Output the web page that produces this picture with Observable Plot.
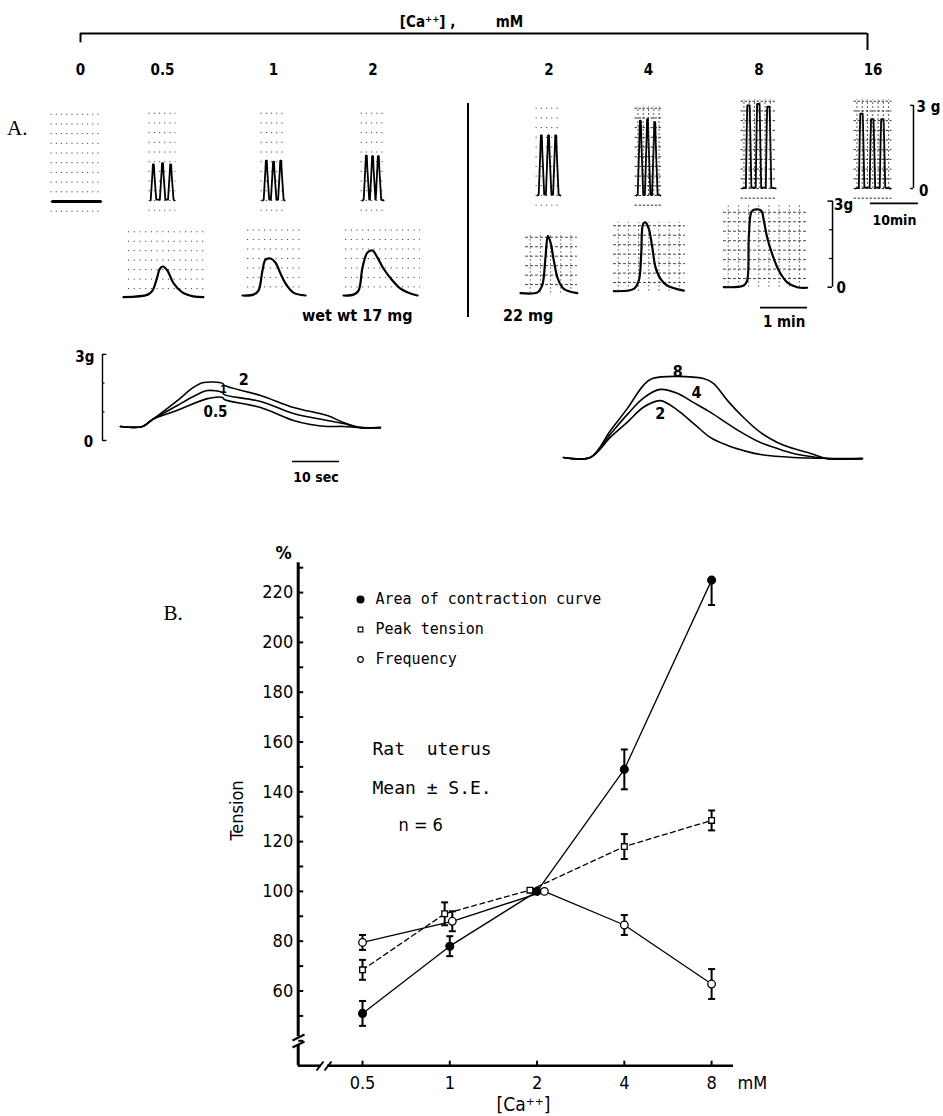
<!DOCTYPE html>
<html><head><meta charset="utf-8">
<script src="https://cdn.jsdelivr.net/npm/d3@7"></script>
<script src="https://cdn.jsdelivr.net/npm/@observablehq/plot@0.6"></script>
<style>
body{margin:0;background:#fff;}
#fig{position:relative;width:943px;height:1116px;overflow:hidden;background:#fff;color:#000;font-family:"DejaVu Sans Condensed","DejaVu Sans",sans-serif;}
.lbl{position:absolute;white-space:nowrap;line-height:1;}
</style></head><body><div id="fig"></div>
<script>
// ================= DATA =================
// ---- Part B: tension (% of value at 2 mM) vs [Ca++] (mM) ----
const conc = [0.5, 1, 2, 4, 8];
const xTickLabels = ["0.5", "1", "2", "4", "8"];
const yTickLabels = [60, 80, 100, 120, 140, 160, 180, 200, 220];
const yMinorTicks = [40, 50, 60, 70, 80, 90, 100, 110, 120, 130, 140, 150, 160, 170, 180, 190, 200, 210, 220, 230];
const legendLabels = ["Area of contraction curve", "Peak tension", "Frequency"];
const areaX = [0.5, 1, 2, 4, 8];
const areaY = [51, 78, 100, 149, 225];
const areaErrLo = [5, 4, 0, 8, 10];
const areaErrHi = [5, 4, 0, 8, 0];
const peakX = [0.5, 0.96, 1.89, 4, 8];
const peakY = [68.5, 91, 100.5, 118, 128.5];
const peakErr = [4, 4.6, 0, 5, 4];
const freqX = [0.5, 1.02, 2.12, 4, 8];
const freqY = [79.5, 88, 100, 86.5, 62.8];
const freqErr = [3, 4, 0, 4, 6];

// ---- Part A, row 1: slow recordings (time in min, tension in g above resting) ----
const concLabels = ["0", "0.5", "1", "2", "2", "4", "8", "16"];
const slowPeakTimes = [[], [0.6, 2.5, 4.2], [0.8, 2.3, 3.8], [0.8, 2.1, 3.3], [0.8, 2.3, 3.8], [0.8, 2.3, 3.8], [1.25, 3.3, 5.4], [1.25, 3.5, 5.6]];
const slowPeakAmps = [[], [1.3, 1.35, 1.3], [1.44, 1.4, 1.44], [1.62, 1.6, 1.6], [2.17, 2.17, 2.17], [2.7, 2.75, 2.65], [3.0, 3.05, 2.95], [2.7, 2.5, 2.5]];
const slowTraceEnd = [10, 5.0, 4.6, 4.4, 4.8, 5.0, 6.9, 7.3];

// ---- Part A, row 2: single contractions, fast paper speed (time s, tension g) ----
const fast05 = [[0,0],[31,0.09],[37,0.23],[43,0.69],[46,0.97],[50,1.07],[56,0.93],[64,0.48],[75,0.17],[89,0.03],[102,0]];
const fast1 = [[0,0],[14,0.03],[20.4,0.17],[25.5,0.87],[29.4,1.25],[35.8,1.29],[42,1.15],[48.5,0.77],[54.9,0.42],[65,0.1],[80.5,0]];
const fast2L = [[0,0],[12.8,0.03],[19.2,0.17],[24.3,0.98],[30.6,1.5],[37,1.57],[43.4,1.32],[51,0.94],[62.5,0.52],[72.8,0.24],[85.6,0.07],[94.5,0]];
const fast2R = [[0,0],[21.7,0.03],[27.7,0.27],[31.9,1.25],[34.9,2.0],[38.3,1.77],[42.6,1.13],[47.7,0.5],[55.3,0.15],[72.4,0]];
const fast4 = [[0,0],[25.5,0.08],[31.9,0.37],[35,1.3],[37.5,2.35],[40.4,2.4],[44.7,2.17],[49,1.55],[53.2,0.84],[59.6,0.43],[68.1,0.2],[89.4,0.02]];
const fast8 = [[0,0],[25.5,0.06],[29.8,0.23],[31.9,1.74],[35,2.61],[38.3,2.7],[47.7,2.67],[51,2.33],[55.3,1.74],[61.7,1.16],[70.2,0.58],[80.9,0.17],[93.6,0],[106.4,-0.02]];
const fastCurves = [fast05, fast1, fast2L, fast2R, fast4, fast8];
const fastGridTop = [2.6, 2.3, 2.3, 2.1, 2.4, 2.9];

// ---- Part A, row 3: superimposed contractions (time s, tension g) ----
const ovL2 = [[0,0.49],[4.7,0.49],[6.8,0.73],[12.1,1.39],[15.5,1.85],[17.7,2.02],[21.7,1.99],[22.1,1.92],[29.8,1.57],[36.8,1.15],[44,0.87],[47.4,0.63],[51.1,0.45],[55.3,0.45]];
const ovL1 = [[0,0.49],[4.7,0.49],[6.8,0.73],[12.1,1.22],[15.5,1.53],[18.5,1.74],[21.7,1.67],[22.1,1.6],[29.8,1.36],[36.8,0.94],[44,0.7],[47.4,0.59],[51.1,0.45],[55.3,0.45]];
const ovL05 = [[0,0.49],[4.7,0.49],[6.8,0.73],[12.1,1.05],[18.5,1.46],[21.7,1.5],[22.1,1.43],[29.8,1.15],[36.8,0.7],[40.4,0.56],[44,0.49],[47.4,0.49],[51.1,0.45],[55.3,0.45]];
const ovR8 = [[0,0.49],[5.7,0.49],[10,1.43],[13.6,2.2],[17,3.0],[18.9,3.24],[29.8,3.24],[31.9,3.07],[34.9,2.47],[38.3,1.88],[41.9,1.36],[45.5,1.01],[48.9,0.8],[52.6,0.63],[56.2,0.45],[63.6,0.45]];
const ovR4 = [[0,0.49],[5.7,0.49],[10,1.31],[13.6,1.99],[17,2.56],[20.6,2.86],[24.3,2.72],[27.7,2.4],[31.3,2.06],[34.9,1.67],[38.3,1.32],[41.9,1.01],[45.5,0.8],[48.9,0.63],[52.6,0.52],[56.2,0.45],[63.6,0.45]];
const ovR2 = [[0,0.49],[5.7,0.49],[10,1.2],[13.6,1.72],[17,2.24],[20.6,2.47],[24.3,2.13],[27.7,1.67],[31.3,1.18],[34.9,0.91],[38.3,0.73],[41.9,0.59],[48.9,0.49],[63.6,0.45]];

// ================= LAYOUT / HELPERS =================
const COND = '"DejaVu Sans Condensed","DejaVu Sans",sans-serif';
const MONO = '"DejaVu Sans Mono",monospace';
const SERIF = '"Liberation Serif","DejaVu Serif",serif';
const fig = document.getElementById("fig");
function place(el, left, top) { el.style.position = "absolute"; el.style.left = left + "px"; el.style.top = top + "px"; fig.appendChild(el); }
function label(text, left, top, size, family, extra) {
  const d = document.createElement("div"); d.className = "lbl"; d.textContent = text;
  d.style.left = left + "px"; d.style.top = top + "px"; d.style.fontSize = size + "px"; d.style.fontFamily = family;
  if (extra) Object.assign(d.style, extra); fig.appendChild(d); return d;
}
const tickRight = {draw(c, s) { const r = Math.sqrt(s / Math.PI); c.moveTo(0, 0); c.lineTo(r, 0); }};
const tickUp = {draw(c, s) { const r = Math.sqrt(s / Math.PI); c.moveTo(0, 0); c.lineTo(0, -r); }};
const capBar = {draw(c, s) { const r = Math.sqrt(s / Math.PI); c.moveTo(-r, 0); c.lineTo(r, 0); }};
const xy = {x: d => d[0], y: d => d[1]};

function panel({left, top, width, height, x0, base, px, py, marks}) {
  const svg = Plot.plot({
    width, height, marginTop: 0, marginRight: 0, marginBottom: 0, marginLeft: 0,
    style: {background: "transparent", overflow: "visible", fontFamily: COND, color: "black"},
    x: {domain: [(left - x0) / px, (left + width - x0) / px], range: [0, width], axis: null},
    y: {domain: [(base - top - height) / py, (base - top) / py], range: [height, 0], axis: null},
    marks
  });
  place(svg, left, top);
}

// ---------- header bracket ----------
{
  const svg = Plot.plot({
    width: 943, height: 55, marginTop: 0, marginRight: 0, marginBottom: 0, marginLeft: 0,
    style: {background: "transparent", overflow: "visible", fontFamily: COND},
    x: {domain: [0, 1], range: [80, 867], axis: null},
    y: {domain: [0, 1], range: [50, 33], axis: null},
    marks: [
      Plot.ruleY([1], {x1: 0, x2: 1, strokeWidth: 2}),
      Plot.ruleX([0], {y1: 1, y2: 0.45, strokeWidth: 2}),
      Plot.ruleX([1], {y1: 1, y2: 0, strokeWidth: 2}),
      Plot.text(["[Ca⁺⁺] ,"], {x: 0.441, y: 1.65, text: d => d, fontSize: 15, fontWeight: "bold"}),
      Plot.text(["mM"], {x: 0.545, y: 1.65, text: d => d, fontSize: 15, fontWeight: "bold"})
    ]
  });
  place(svg, 0, 0);
}

// ---------- row 1: slow traces ----------
const slowLayout = [{x0: 52, base: 201}, {x0: 150, base: 200}, {x0: 262, base: 200}, {x0: 362, base: 200},
                    {x0: 537, base: 195}, {x0: 636, base: 195}, {x0: 742, base: 188}, {x0: 855, base: 188}];
function slowTrace(times, amps, end, wide) {
  const pts = [[0, 0]];
  times.forEach((t, i) => {
    const a = amps[i], w = wide ? 0.25 : 0.1;
    pts.push([t - 0.55, 0.03], [t - w - 0.1, a * 0.75], [t - w, a], [t + w, a], [t + w + 0.12, a * 0.7], [t + 0.6, 0.03]);
  });
  pts.push([end, 0]);
  return pts;
}
concLabels.forEach((lab, i) => {
  const L = slowLayout[i], end = slowTraceEnd[i];
  const left = L.x0 - 14;
  const width = i === 7 ? 943 - left : end * 4.8 + 28;
  const dense = i >= 5;
  const marks = [
    Plot.ruleY(d3.range(-0.35, 3.45, 0.35), {x1: -0.3, x2: end + 0.3, stroke: "#333", strokeWidth: dense ? 1 : 0.9, strokeDasharray: dense ? "2.5,1.5" : "1.2,4"}),
    Plot.line(i === 0 ? [[0, 0], [end, 0]] : slowTrace(slowPeakTimes[i], slowPeakAmps[i], end, i >= 6), {...xy, strokeWidth: i === 0 ? 3 : 1.8}),
    Plot.text([lab], {x: i === 0 ? 5.8 : end / 2, frameAnchor: "top", dy: 14, text: d => d, fontSize: 15, fontWeight: "bold"})
  ];
  if (dense) marks.push(Plot.ruleX(d3.range(0.3, end, 1.1), {y1: 0, y2: 3.2, stroke: "#333", strokeWidth: 0.8, strokeDasharray: "2,2"}));
  if (i === 7) {
    marks.push(
      Plot.ruleX([12.08], {y1: 0, y2: 3, strokeWidth: 1.5}),
      Plot.ruleY([0, 3], {x1: 11.5, x2: 12.08, strokeWidth: 1.5}),
      Plot.text(["3 g"], {x: 15.2, y: 2.95, text: d => d, fontSize: 15, fontWeight: "bold"}),
      Plot.text(["0"], {x: 14.2, y: -0.1, text: d => d, fontSize: 15, fontWeight: "bold"}),
      Plot.ruleY([-0.54], {x1: 3.1, x2: 13.1, strokeWidth: 1.8}),
      Plot.text(["10min"], {x: 8.1, y: -1.15, text: d => d, fontSize: 14, fontWeight: "bold"})
    );
  }
  panel({left, top: 50, width, height: L.base - 50 + 42, x0: L.x0, base: L.base, px: 4.8, py: 27.7, marks});
});

// ---------- row 2: single contractions ----------
const fastLayout = [{x0: 123, base: 296.7, g0: 128, g1: 205}, {x0: 242, base: 295, g0: 247, g1: 300},
                    {x0: 343, base: 295, g0: 345, g1: 420}, {x0: 520, base: 292.7, g0: 525, g1: 577},
                    {x0: 613.3, base: 290.7, g0: 613, g1: 685}, {x0: 723.3, base: 286.7, g0: 723, g1: 807}];
const pxS = 47 / 60, pxG = 28.7;
fastCurves.forEach((curve, i) => {
  const L = fastLayout[i];
  const left = Math.min(L.x0, L.g0) - 8;
  const width = i === 5 ? 870 - left : (L.g1 - left) + 10;
  const tA = (L.g0 - L.x0) / pxS, tB = (L.g1 - L.x0) / pxS;
  const dense = i >= 3;
  const marks = [
    Plot.ruleY(d3.range(0.3, fastGridTop[i] + 0.01, 0.33), {x1: tA, x2: tB, stroke: "#333", strokeWidth: 0.9, strokeDasharray: dense ? "3,2" : "1.2,4.5"}),
    Plot.line(curve, {...xy, strokeWidth: 2.2, curve: "catmull-rom"})
  ];
  if (dense) marks.push(Plot.ruleX(d3.range(tA + 6, tB, 13), {y1: 0, y2: fastGridTop[i], stroke: "#333", strokeWidth: 0.8, strokeDasharray: "1.5,2.5"}));
  if (i === 5) {
    marks.push(
      Plot.ruleX([138.8], {y1: 0, y2: 3, strokeWidth: 1.5}),
      Plot.ruleY([0, 3], {x1: 133, x2: 138.8, strokeWidth: 1.5}),
      Plot.ruleY([1, 2], {x1: 135, x2: 138.8, strokeWidth: 1.2}),
      Plot.text(["3g"], {x: 153, y: 2.85, text: d => d, fontSize: 15, fontWeight: "bold"}),
      Plot.text(["0"], {x: 150, y: -0.05, text: d => d, fontSize: 15, fontWeight: "bold"}),
      Plot.ruleY([-0.71], {x1: 46.9, x2: 106.9, strokeWidth: 1.8}),
      Plot.text(["1 min"], {x: 77, y: -1.23, text: d => d, fontSize: 15, fontWeight: "bold"})
    );
  }
  panel({left, top: 195, width, height: 135, x0: L.x0, base: L.base, px: pxS, py: pxG, marks});
});

// ---------- row 3: superimposed contractions ----------
panel({left: 60, top: 340, width: 330, height: 150, x0: 120, base: 440, px: 4.7, py: 28.7, marks: [
  Plot.line(ovL2, {...xy, strokeWidth: 1.6, curve: "catmull-rom"}),
  Plot.line(ovL1, {...xy, strokeWidth: 1.6, curve: "catmull-rom"}),
  Plot.line(ovL05, {...xy, strokeWidth: 1.6, curve: "catmull-rom"}),
  Plot.text(["2"], {x: 26.2, y: 2.12, text: d => d, fontSize: 16, fontWeight: "bold"}),
  Plot.text(["1"], {x: 21.9, y: 1.78, text: d => d, fontSize: 11, fontWeight: "bold"}),
  Plot.text(["0.5"], {x: 20.2, y: 0.98, text: d => d, fontSize: 15, fontWeight: "bold"}),
  Plot.ruleX([-3.83], {y1: 0, y2: 3, strokeWidth: 1.4}),
  Plot.ruleY([0, 3], {x1: -3.83, x2: -2.9, strokeWidth: 1.4}),
  Plot.ruleY([1, 2], {x1: -3.83, x2: -3.3, strokeWidth: 1.2}),
  Plot.text(["3g"], {x: -7.6, y: 2.9, text: d => d, fontSize: 15, fontWeight: "bold"}),
  Plot.text(["0"], {x: -6.8, y: -0.07, text: d => d, fontSize: 15, fontWeight: "bold"}),
  Plot.ruleY([-0.73], {x1: 36.6, x2: 46.6, strokeWidth: 1.6}),
  Plot.text(["10 sec"], {x: 41.6, y: -1.29, text: d => d, fontSize: 14, fontWeight: "bold"})
]});
panel({left: 555, top: 340, width: 340, height: 140, x0: 563, base: 471, px: 4.7, py: 28.7, marks: [
  Plot.line(ovR8, {...xy, strokeWidth: 1.6, curve: "catmull-rom"}),
  Plot.line(ovR4, {...xy, strokeWidth: 1.6, curve: "catmull-rom"}),
  Plot.line(ovR2, {...xy, strokeWidth: 1.6, curve: "catmull-rom"}),
  Plot.text(["8"], {x: 24.3, y: 3.48, text: d => d, fontSize: 16, fontWeight: "bold"}),
  Plot.text(["4"], {x: 28.3, y: 2.74, text: d => d, fontSize: 16, fontWeight: "bold"}),
  Plot.text(["2"], {x: 20.6, y: 2.02, text: d => d, fontSize: 16, fontWeight: "bold"})
]});

// ---------- static labels of part A ----------
label("A.", 7, 118, 21, SERIF);
label("wet  wt  17 mg", 302, 308, 16, COND, {fontWeight: "bold"});
label("22 mg", 503, 308, 16, COND, {fontWeight: "bold"});
{ const d = document.createElement("div"); Object.assign(d.style, {position: "absolute", left: "467px", top: "103px", width: "2px", height: "214px", background: "#000"}); fig.appendChild(d); }

// ---------- Part B ----------
{
  const invX = p => 0.3 * Math.pow(2, (p - 297.7) / 87.27);
  const invY = p => 30 + (1065.2 - p) / 2.49;
  const mk = (xs, ys, lo, hi) => xs.map((x, i) => ({x, y: ys[i], lo: ys[i] - lo[i], hi: ys[i] + hi[i], e: lo[i] + hi[i]}));
  const area = mk(areaX, areaY, areaErrLo, areaErrHi);
  const peak = mk(peakX, peakY, peakErr, peakErr);
  const freq = mk(freqX, freqY, freqErr, freqErr);
  const withErr = [...area, ...peak, ...freq].filter(d => d.e > 0);
  const T = (s, x, y, o) => Plot.text([s], {x, y, text: d => d, ...o});
  const svg = Plot.plot({
    width: 700, height: 586, marginTop: 0, marginRight: 0, marginBottom: 0, marginLeft: 0,
    style: {background: "transparent", overflow: "visible", fontFamily: COND, color: "black"},
    x: {type: "log", base: 2, domain: [0.3, 9.52], range: [197.7, 633], axis: null},
    y: {domain: [30, 232], range: [535.2, 32.2], axis: null},
    marks: [
      // axes with breaks
      Plot.ruleX([0.3], {y1: 30, y2: 38.3, strokeWidth: 3}),
      Plot.ruleX([0.3], {y1: 41.6, y2: 232, strokeWidth: 3}),
      Plot.link([0], {x1: invX(292), y1: invY(1047), x2: invX(304), y2: invY(1041), strokeWidth: 2}),
      Plot.link([0], {x1: invX(292), y1: invY(1040), x2: invX(304), y2: invY(1034), strokeWidth: 2}),
      Plot.ruleY([30], {x1: 0.3, x2: invX(321), strokeWidth: 2.5}),
      Plot.ruleY([30], {x1: invX(327), x2: 9.52, strokeWidth: 2.5}),
      Plot.link([0], {x1: invX(316), y1: invY(1070), x2: invX(323), y2: invY(1061), strokeWidth: 2}),
      Plot.link([0], {x1: invX(324), y1: invY(1070), x2: invX(331), y2: invY(1061), strokeWidth: 2}),
      Plot.dot(yMinorTicks, {x: 0.3, y: d => d, symbol: tickRight, r: 5, fill: "none", stroke: "black", strokeWidth: 2}),
      Plot.dot(conc, {x: d => d, y: 30, symbol: tickUp, r: 5, fill: "none", stroke: "black", strokeWidth: 2}),
      Plot.text(yTickLabels, {x: 0.3, y: d => d, text: d => String(d), textAnchor: "end", dx: -5, fontSize: 18}),
      Plot.text(conc, {x: d => d, y: 30, text: (d, i) => xTickLabels[i], dy: 18, fontSize: 18}),
      T("mM", invX(737), 30, {dy: 18, textAnchor: "start", fontSize: 18}),
      T("[Ca⁺⁺]", invX(523), invY(1104), {fontSize: 19}),
      T("%", invX(283), invY(553), {fontSize: 18, fontWeight: "bold"}),
      T("Tension", invX(237), invY(810), {rotate: -90, fontSize: 18}),
      T("B.", invX(163), invY(613), {textAnchor: "start", fontSize: 21, fontFamily: SERIF}),
      // legend
      Plot.dot([0], {x: invX(360), y: invY(599), r: 3.3, fill: "black", stroke: "black"}),
      Plot.dot([0], {x: invX(360), y: invY(629), symbol: "square", r: 2.6, fill: "white", stroke: "black", strokeWidth: 1.2}),
      Plot.dot([0], {x: invX(360), y: invY(659), r: 2.8, fill: "white", stroke: "black", strokeWidth: 1.2}),
      Plot.text(legendLabels, {x: invX(375), y: (d, i) => invY(599 + 30 * i), text: d => d, textAnchor: "start", fontSize: 15, fontFamily: MONO}),
      T("Rat  uterus", invX(372), invY(749), {textAnchor: "start", fontSize: 18, fontFamily: MONO}),
      T("Mean ± S.E.", invX(372), invY(788), {textAnchor: "start", fontSize: 18, fontFamily: MONO}),
      T("n = 6", invX(398), invY(825), {textAnchor: "start", fontSize: 18, fontFamily: COND}),
      // series
      Plot.line(area, {x: "x", y: "y", strokeWidth: 1.3}),
      Plot.line(peak, {x: "x", y: "y", strokeWidth: 1.3, strokeDasharray: "5,3.5"}),
      Plot.line(freq, {x: "x", y: "y", strokeWidth: 1.3}),
      Plot.ruleX(withErr, {x: "x", y1: "lo", y2: "hi", strokeWidth: 2}),
      Plot.dot(withErr, {x: "x", y: "lo", symbol: capBar, r: 3.5, fill: "none", stroke: "black", strokeWidth: 2}),
      Plot.dot(withErr.filter(d => d.hi > d.y), {x: "x", y: "hi", symbol: capBar, r: 3.5, fill: "none", stroke: "black", strokeWidth: 2}),
      Plot.dot(area, {x: "x", y: "y", r: 3.8, fill: "black", stroke: "black"}),
      Plot.dot(peak, {x: "x", y: "y", symbol: "square", r: 3.2, fill: "white", stroke: "black", strokeWidth: 1.3}),
      Plot.dot(freq, {x: "x", y: "y", r: 3.8, fill: "white", stroke: "black", strokeWidth: 1.3})
    ]
  });
  place(svg, 100, 530);
}
</script></body></html>
